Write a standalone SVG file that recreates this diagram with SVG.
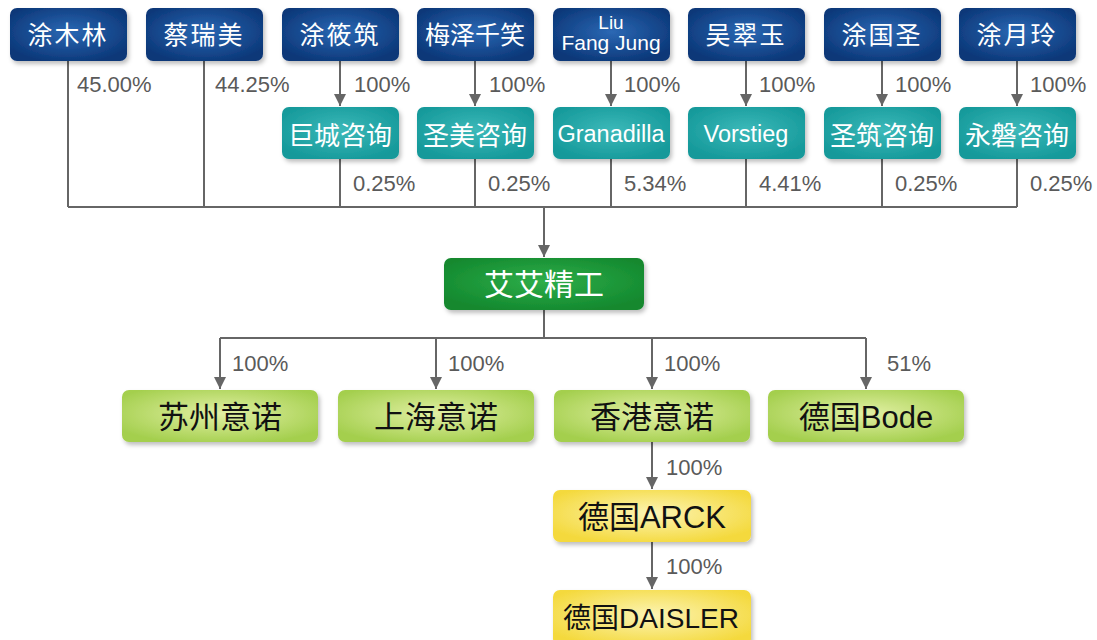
<svg xmlns="http://www.w3.org/2000/svg" width="1097" height="640" viewBox="0 0 1097 640">
<style>
.blue{fill:url(#gBlue)}
.teal{fill:url(#gTeal)}
.dgreen{fill:url(#gDGreen)}
.lgreen{fill:url(#gLGreen)}
.yellow{fill:url(#gYellow)}
.box{filter:url(#sh)}
.wt{fill:#fff;font-family:"Liberation Sans","Noto Sans CJK SC",sans-serif;text-anchor:middle}
.bt{fill:#111;font-family:"Liberation Sans","Noto Sans CJK SC",sans-serif;text-anchor:middle;font-size:31px}
.pct{fill:#5a5a5a;font-family:"Liberation Sans","Noto Sans CJK SC",sans-serif;font-size:22px}
.ln{stroke:#666;stroke-width:2;fill:none}
</style>
<defs>
<radialGradient id="gBlue" cx="0.5" cy="0.45" r="0.6">
<stop offset="0" stop-color="#2b68b4"/><stop offset="1" stop-color="#0b3778"/>
</radialGradient>
<radialGradient id="gTeal" cx="0.5" cy="0.45" r="0.6">
<stop offset="0" stop-color="#3cb9b9"/><stop offset="1" stop-color="#15999a"/>
</radialGradient>
<radialGradient id="gDGreen" cx="0.5" cy="0.45" r="0.6">
<stop offset="0" stop-color="#2fae4a"/><stop offset="1" stop-color="#12882e"/>
</radialGradient>
<radialGradient id="gLGreen" cx="0.5" cy="0.45" r="0.6">
<stop offset="0" stop-color="#e2f0a4"/><stop offset="1" stop-color="#a4cf4e"/>
</radialGradient>
<radialGradient id="gYellow" cx="0.5" cy="0.45" r="0.6">
<stop offset="0" stop-color="#fcf4b4"/><stop offset="1" stop-color="#f4d93c"/>
</radialGradient>
<filter id="sh" x="-10%" y="-20%" width="125%" height="150%">
<feDropShadow dx="2" dy="3" stdDeviation="2" flood-color="#000" flood-opacity="0.25"/>
</filter>
<marker id="ah" viewBox="0 0 12 12" refX="12" refY="6" markerWidth="12" markerHeight="12" markerUnits="userSpaceOnUse" orient="auto">
<path d="M0,0 L12,6 L0,12 Z" fill="#666"/>
</marker>
</defs>

<g id="connectors">
<path class="ln" d="M340,61 V106" marker-end="url(#ah)"/>
<path class="ln" d="M475,61 V106" marker-end="url(#ah)"/>
<path class="ln" d="M611,61 V106" marker-end="url(#ah)"/>
<path class="ln" d="M746,61 V106" marker-end="url(#ah)"/>
<path class="ln" d="M882,61 V106" marker-end="url(#ah)"/>
<path class="ln" d="M1017,61 V106" marker-end="url(#ah)"/>
<path class="ln" d="M68,61 V207"/>
<path class="ln" d="M204,61 V207"/>
<path class="ln" d="M340,159 V207"/>
<path class="ln" d="M475,159 V207"/>
<path class="ln" d="M611,159 V207"/>
<path class="ln" d="M746,159 V207"/>
<path class="ln" d="M882,159 V207"/>
<path class="ln" d="M1017,159 V207"/>
<path class="ln" d="M68,207 H1017"/>
<path class="ln" d="M544,207 V257" marker-end="url(#ah)"/>
<path class="ln" d="M544,310 V338"/>
<path class="ln" d="M220,338 H866"/>
<path class="ln" d="M220,338 V389" marker-end="url(#ah)"/>
<path class="ln" d="M436,338 V389" marker-end="url(#ah)"/>
<path class="ln" d="M652,338 V389" marker-end="url(#ah)"/>
<path class="ln" d="M866,338 V389" marker-end="url(#ah)"/>
<path class="ln" d="M652,442 V489" marker-end="url(#ah)"/>
<path class="ln" d="M652,542 V589" marker-end="url(#ah)"/>
</g>

<g id="labels">
<text class="pct" x="77" y="92">45.00%</text>
<text class="pct" x="215" y="92">44.25%</text>
<text class="pct" x="354" y="92">100%</text>
<text class="pct" x="489" y="92">100%</text>
<text class="pct" x="624" y="92">100%</text>
<text class="pct" x="759" y="92">100%</text>
<text class="pct" x="895" y="92">100%</text>
<text class="pct" x="1030" y="92">100%</text>
<text class="pct" x="353" y="191">0.25%</text>
<text class="pct" x="488" y="191">0.25%</text>
<text class="pct" x="624" y="191">5.34%</text>
<text class="pct" x="759" y="191">4.41%</text>
<text class="pct" x="895" y="191">0.25%</text>
<text class="pct" x="1030" y="191">0.25%</text>
<text class="pct" x="232" y="371">100%</text>
<text class="pct" x="448" y="371">100%</text>
<text class="pct" x="664" y="371">100%</text>
<text class="pct" x="887" y="371">51%</text>
<text class="pct" x="666" y="475">100%</text>
<text class="pct" x="666" y="574">100%</text>
</g>

<g id="n-tumulin"><rect class="blue box" x="10" y="8" width="117" height="53" rx="7"/><text class="wt" x="68" y="44" font-size="25" letter-spacing="2">涂木林</text></g>
<g id="n-cairuimei"><rect class="blue box" x="146" y="8" width="117" height="53" rx="7"/><text class="wt" x="204" y="44" font-size="25" letter-spacing="2">蔡瑞美</text></g>
<g id="n-tuxiaozhu"><rect class="blue box" x="282" y="8" width="117" height="53" rx="7"/><text class="wt" x="340" y="44" font-size="25" letter-spacing="2">涂筱筑</text></g>
<g id="n-meize"><rect class="blue box" x="417" y="8" width="117" height="53" rx="7"/><text class="wt" x="475" y="44" font-size="25">梅泽千笑</text></g>
<g id="n-liu"><rect class="blue box" x="553" y="8" width="117" height="53" rx="7"/><text class="wt" x="611" y="29" font-size="19">Liu</text><text class="wt" x="611" y="50" font-size="21">Fang Jung</text></g>
<g id="n-wucuiyu"><rect class="blue box" x="688" y="8" width="117" height="53" rx="7"/><text class="wt" x="746" y="44" font-size="25" letter-spacing="2">吴翠玉</text></g>
<g id="n-tuguosheng"><rect class="blue box" x="824" y="8" width="117" height="53" rx="7"/><text class="wt" x="882" y="44" font-size="25" letter-spacing="2">涂国圣</text></g>
<g id="n-tuyueling"><rect class="blue box" x="959" y="8" width="117" height="53" rx="7"/><text class="wt" x="1017" y="44" font-size="25" letter-spacing="2">涂月玲</text></g>

<g id="n-jucheng"><rect class="teal box" x="282" y="107" width="117" height="52" rx="7"/><text class="wt" x="340" y="145" font-size="26">巨城咨询</text></g>
<g id="n-shengmei"><rect class="teal box" x="417" y="107" width="117" height="52" rx="7"/><text class="wt" x="475" y="145" font-size="26">圣美咨询</text></g>
<g id="n-granadilla"><rect class="teal box" x="553" y="107" width="117" height="52" rx="7"/><text class="wt" x="611" y="142" font-size="23.5">Granadilla</text></g>
<g id="n-vorstieg"><rect class="teal box" x="688" y="107" width="117" height="52" rx="7"/><text class="wt" x="746" y="142" font-size="23.5">Vorstieg</text></g>
<g id="n-shengzhu"><rect class="teal box" x="824" y="107" width="117" height="52" rx="7"/><text class="wt" x="882" y="145" font-size="26">圣筑咨询</text></g>
<g id="n-yongpan"><rect class="teal box" x="959" y="107" width="117" height="52" rx="7"/><text class="wt" x="1017" y="145" font-size="26">永磐咨询</text></g>

<g id="n-aiai"><rect class="dgreen box" x="444" y="258" width="200" height="52" rx="7"/><text class="wt" x="544" y="295" font-size="30">艾艾精工</text></g>

<g id="n-suzhou"><rect class="lgreen box" x="122" y="390" width="196" height="52" rx="7"/><text class="bt" x="220" y="428">苏州意诺</text></g>
<g id="n-shanghai"><rect class="lgreen box" x="338" y="390" width="196" height="52" rx="7"/><text class="bt" x="436" y="428">上海意诺</text></g>
<g id="n-hongkong"><rect class="lgreen box" x="554" y="390" width="196" height="52" rx="7"/><text class="bt" x="652" y="428">香港意诺</text></g>
<g id="n-bode"><rect class="lgreen box" x="768" y="390" width="196" height="52" rx="7"/><text class="bt" x="866" y="428">德国Bode</text></g>

<g id="n-arck"><rect class="yellow box" x="553" y="490" width="198" height="52" rx="7"/><text class="bt" x="652" y="528">德国ARCK</text></g>
<g id="n-daisler"><rect class="yellow box" x="553" y="590" width="198" height="56" rx="7"/><text class="bt" x="651" y="628" style="font-size:28px">德国DAISLER</text></g>
</svg>
